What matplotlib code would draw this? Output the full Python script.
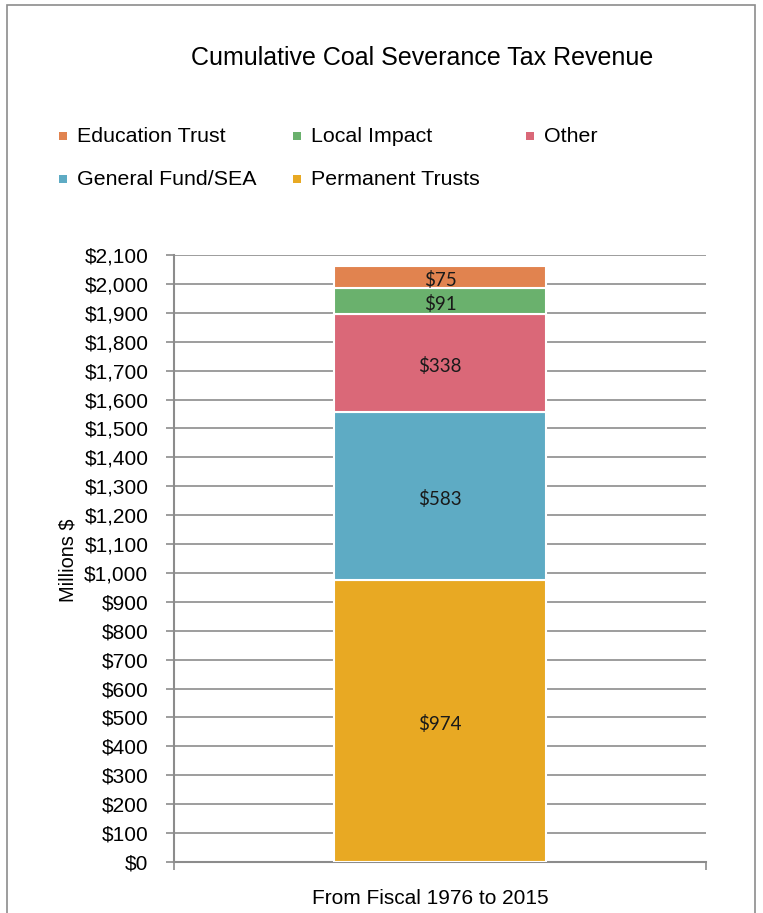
import matplotlib
matplotlib.use("Agg")
import matplotlib.pyplot as plt
from matplotlib.patches import Rectangle
from matplotlib.ticker import FuncFormatter, MultipleLocator

categories = ["From Fiscal 1976 to 2015"]
series_names = ["Permanent Trusts", "General Fund/SEA", "Other", "Local Impact", "Education Trust"]
series_values = [974, 583, 338, 91, 75]
series_colors = ["#E8A923", "#5EABC4", "#DA6878", "#6AB16D", "#E1834F"]
legend_order = ["Education Trust", "Local Impact", "Other", "General Fund/SEA", "Permanent Trusts"]

W, H = 763, 913
fig = plt.figure(figsize=(W / 100, H / 100), dpi=100)
plt.rcParams['font.family'] = ['Liberation Sans', 'DejaVu Sans']

# outer chart border
fig.patches.append(Rectangle((7 / W, -0.01), (755 - 7) / W, 1.01 - 5 / H,
                             transform=fig.transFigure, fill=False,
                             edgecolor="#8c8c8c", linewidth=1.2))

ax_l, ax_r, ax_t, ax_b = 174, 706, 255, 862
ax = fig.add_axes([ax_l / W, 1 - ax_b / H, (ax_r - ax_l) / W, (ax_b - ax_t) / H])

bottom = 0
for name, val, col in zip(series_names, series_values, series_colors):
    ax.bar(0, val, width=0.4, bottom=bottom, color=col, edgecolor="white",
           linewidth=1.5, zorder=3, label=name)
    ax.text(0, bottom + val / 2 - 10, f"${val:,}", ha="center", va="center",
            fontsize=13.5, family="Lato", color="#1a1a1a", zorder=4)
    bottom += val

ax.set_xlim(-0.5, 0.5)
ax.set_ylim(0, 2100)
ax.yaxis.set_major_locator(MultipleLocator(100))
ax.yaxis.set_major_formatter(FuncFormatter(lambda v, p: f"${v:,.0f}"))
ax.grid(axis="y", color="#8c8c8c", linewidth=1.2, zorder=0)
ax.set_axisbelow(True)
for s in ["top", "right"]:
    ax.spines[s].set_visible(False)
for s in ["left", "bottom"]:
    ax.spines[s].set_color("#8c8c8c")
    ax.spines[s].set_linewidth(1.5)
ax.tick_params(axis="y", length=6, color="#8c8c8c", width=1.2, labelsize=15, pad=12.5)
ax.set_xticks([-0.5, 0.5])
ax.set_xticklabels(["", ""])
ax.tick_params(axis="x", length=6, color="#8c8c8c", width=1.2)
ax.text(0.482, -0.045, categories[0], transform=ax.transAxes, ha="center", va="top",
        fontsize=15)
fig.text(68 / W, 1 - 560 / H, "Millions $", rotation=90, ha="center", va="center",
         fontsize=14.4)

fig.text(422 / W, 1 - 58 / H, "Cumulative Coal Severance Tax Revenue",
         ha="center", va="center", fontsize=18)

pos = [(63, 136), (297, 136), (530, 136), (63, 179), (297, 179)]
color_of = dict(zip(series_names, series_colors))
for name, (x, y) in zip(legend_order, pos):
    fig.patches.append(Rectangle((x / W - 4 / W, 1 - y / H - 4 / H), 8 / W, 8 / H,
                                 transform=fig.transFigure,
                                 facecolor=color_of[name], edgecolor="none"))
    fig.text((x + 14) / W, 1 - y / H, name, ha="left", va="center", fontsize=15.4)

fig.savefig("out.png", dpi=100)
